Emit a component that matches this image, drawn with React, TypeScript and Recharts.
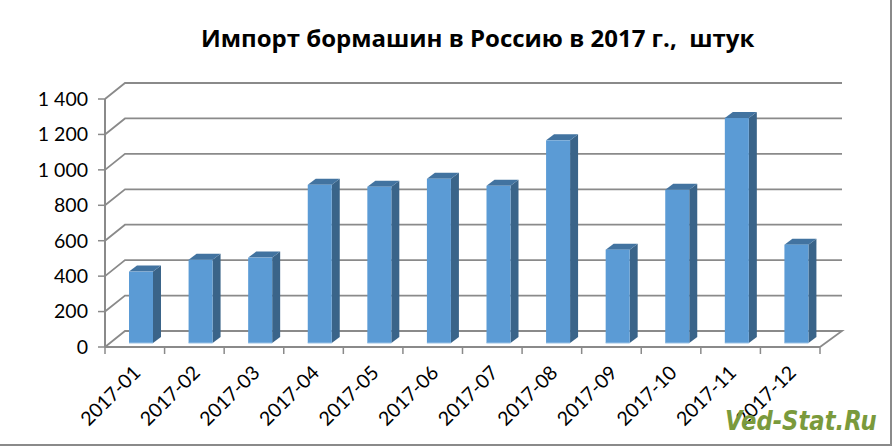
import React from 'react';
import { BarChart, Bar, XAxis, YAxis, CartesianGrid } from 'recharts';

const months = ['2017-01', '2017-02', '2017-03', '2017-04', '2017-05', '2017-06', '2017-07', '2017-08', '2017-09', '2017-10', '2017-11', '2017-12'];
const imports = [403, 470, 482, 893, 882, 927, 887, 1144, 527, 865, 1270, 555];
const yTicks = [0, 200, 400, 600, 800, 1000, 1200, 1400];

const chartData = months.map((month, i) => ({ month, value: imports[i] }));

const WIDTH = 892;
const HEIGHT = 446;
const Y_AXIS_WIDTH = 105;
const X_AXIS_HEIGHT = 99;
const MARGIN = { top: 99, right: 72, bottom: 0, left: 0 };
const PLOT_WIDTH = WIDTH - Y_AXIS_WIDTH - MARGIN.right;
const STEP = PLOT_WIDTH / months.length;

// fake 3D: the back wall and the bars are shifted from the front axis
const WALL_DX = 20;
const WALL_DY = -16;
const WALL_RIGHT_DX = 22;
const BAR_SHIFT_X = 6;
const BAR_SHIFT_Y = -4;
const BAR_DX = 8;
const BAR_DY = -6;

const GREY = '#8a8a8a';
const FONT = 'Lato, "Open Sans", sans-serif';

function WallLine(props: any) {
  const { x1, x2, y1 } = props;
  const back = y1 + WALL_DY;
  const isFloor = Math.abs(y1 - (HEIGHT - X_AXIS_HEIGHT)) < 1;
  const d = isFloor
    ? `M${x1},${y1} L${x1 + WALL_DX},${back} L${x2 + WALL_RIGHT_DX},${back} L${x2},${y1}`
    : `M${x1},${y1} L${x1 + WALL_DX},${back} L${x2 + WALL_RIGHT_DX},${back}`;
  return <path key={props.index} d={d} fill="none" stroke={GREY} strokeWidth={1.8} />;
}

function Column(props: any) {
  const { x, y, width, height } = props;
  const left = x + BAR_SHIFT_X;
  const right = left + width;
  const top = y + BAR_SHIFT_Y;
  const bottom = top + height;
  return (
    <g>
      <polygon
        points={`${right},${top} ${right + BAR_DX},${top + BAR_DY} ${right + BAR_DX},${bottom + BAR_DY} ${right},${bottom}`}
        fill="#3a6489"
      />
      <polygon
        points={`${left},${top} ${left + BAR_DX},${top + BAR_DY} ${right + BAR_DX},${top + BAR_DY} ${right},${top}`}
        fill="#4273a0"
      />
      <rect x={left} y={top} width={width} height={height} fill="#5b9bd5" />
      <line x1={left} x2={right} y1={bottom} y2={bottom} stroke="#9dc3e6" strokeWidth={1} />
    </g>
  );
}

function MonthTick(props: any) {
  const { x, y, payload, index } = props;
  const lineX = x - STEP / 2;
  const axisY = HEIGHT - X_AXIS_HEIGHT;
  const labelX = x + 7;
  const labelY = y + 19;
  return (
    <g>
      <line x1={lineX} x2={lineX} y1={axisY} y2={axisY + 7} stroke={GREY} strokeWidth={1.5} />
      {index === months.length - 1 && (
        <line x1={lineX + STEP} x2={lineX + STEP} y1={axisY} y2={axisY + 7} stroke={GREY} strokeWidth={1.5} />
      )}
      <text
        x={labelX}
        y={labelY}
        textAnchor="end"
        transform={`rotate(-45 ${labelX} ${labelY})`}
        fontFamily={FONT}
        fontSize={19.5}
        fill="#000"
      >
        {payload.value}
      </text>
    </g>
  );
}

const formatThousands = (v: number) => String(v).replace(/\B(?=(\d{3})+$)/g, '\u00a0');

export default function App() {
  return (
    <div
      style={{
        position: 'absolute',
        left: 0,
        top: 0,
        width: WIDTH,
        height: HEIGHT,
        background: '#fff',
        overflow: 'hidden',
      }}
    >
      <BarChart width={WIDTH} height={HEIGHT} data={chartData} margin={MARGIN} barSize={24}>
        <CartesianGrid horizontal={WallLine} vertical={false} syncWithTicks />
        <XAxis
          dataKey="month"
          interval={0}
          tickLine={false}
          axisLine={{ stroke: GREY, strokeWidth: 2 }}
          tick={MonthTick}
          height={X_AXIS_HEIGHT}
        />
        <YAxis
          width={Y_AXIS_WIDTH}
          domain={[0, 1400]}
          ticks={yTicks}
          interval={0}
          tickFormatter={formatThousands}
          tick={{ fontFamily: FONT, fontSize: 19.5, fill: '#000' }}
          tickSize={7}
          tickMargin={10}
          tickLine={{ stroke: GREY, strokeWidth: 1.5 }}
          axisLine={{ stroke: GREY, strokeWidth: 2 }}
        />
        <Bar dataKey="value" shape={Column} isAnimationActive={false} />
      </BarChart>
      <div
        style={{
          position: 'absolute',
          left: 725,
          top: 406,
          fontFamily: '"DejaVu Sans", sans-serif',
          fontWeight: 700,
          fontStyle: 'italic',
          fontSize: 26,
          whiteSpace: 'pre',
          color: '#7a9a3c',
          transform: 'scaleX(0.875)',
          transformOrigin: 'left',
        }}
      >
        Ved-Stat.Ru
      </div>
      <div
        style={{
          position: 'absolute',
          left: 201,
          top: 21,
          fontFamily: '"Open Sans", sans-serif',
          fontWeight: 700,
          fontSize: 24,
          whiteSpace: 'pre',
          color: '#000',
        }}
      >
        {'Импорт бормашин в Россию в 2017 г.,  штук'}
      </div>
      <div
        style={{
          position: 'absolute',
          inset: 0,
          borderRight: '2px solid #8a8a8a',
          borderBottom: '2px solid #8a8a8a',
          pointerEvents: 'none',
        }}
      />
    </div>
  );
}
